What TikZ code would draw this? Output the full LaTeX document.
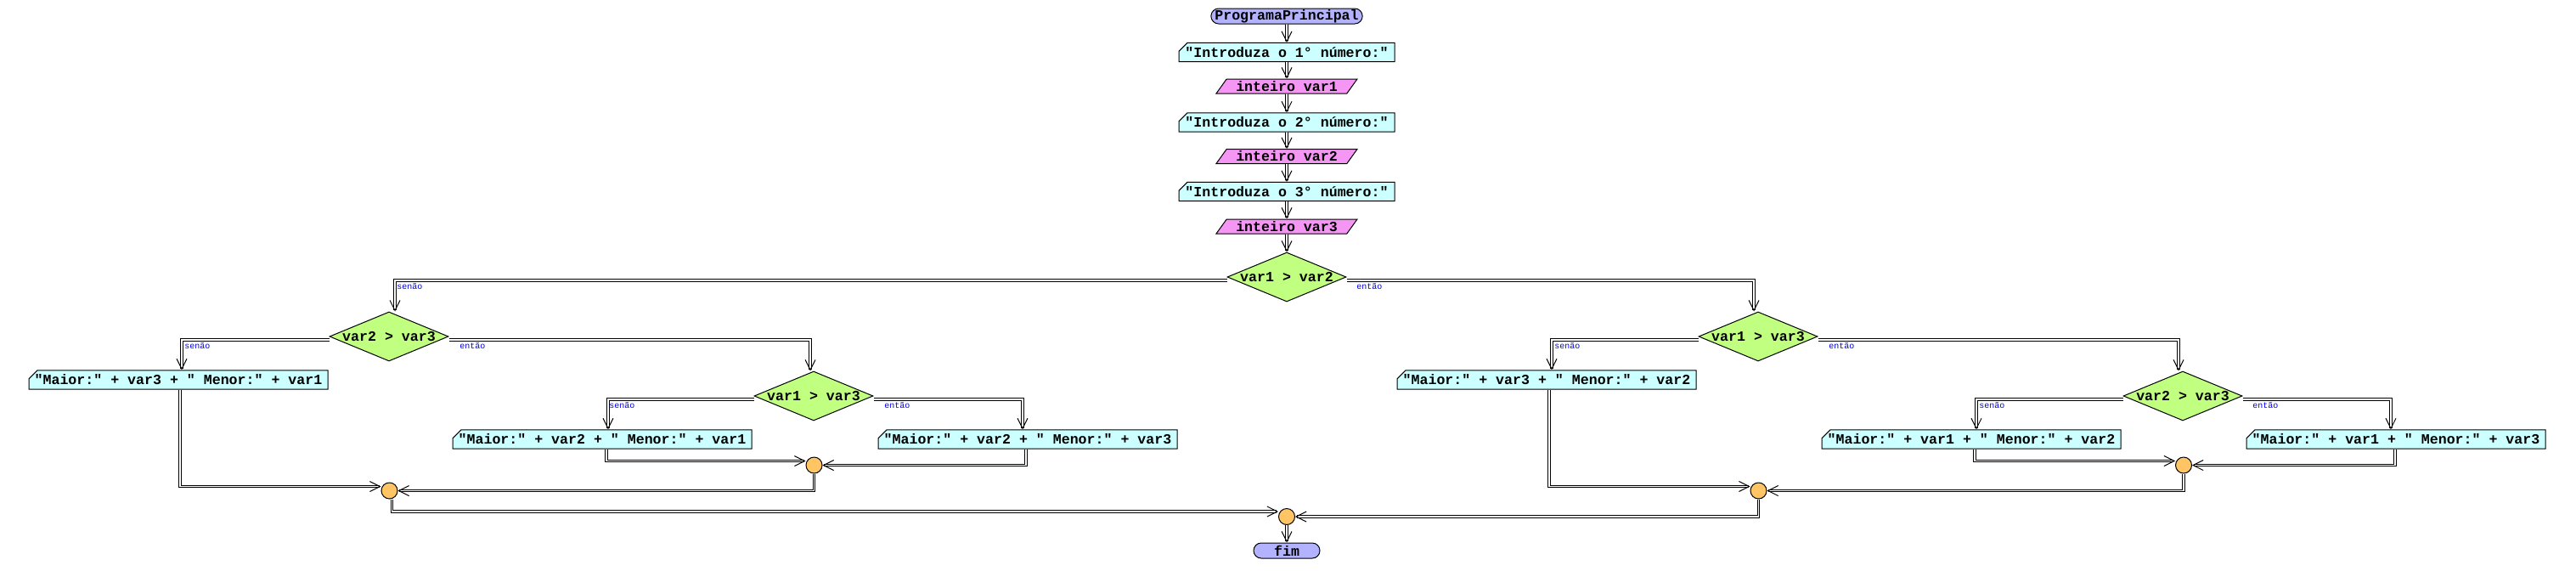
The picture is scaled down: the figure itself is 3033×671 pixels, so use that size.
\documentclass[tikz,border=0pt]{standalone}
\usepackage{fontspec}
\newfontfamily\cf{Liberation Mono}
\usetikzlibrary{shapes.geometric,shapes.misc,arrows.meta}
\definecolor{termfill}{RGB}{178,178,255}
\definecolor{outfill}{RGB}{204,255,255}
\definecolor{infill}{RGB}{245,150,245}
\definecolor{decfill}{RGB}{192,255,128}
\definecolor{joinfill}{RGB}{255,196,100}
\definecolor{lblblue}{RGB}{0,0,255}
\begin{document}
\begin{tikzpicture}[x=0.5pt,y=-0.5pt,
 txt/.style={font=\cf\bfseries\fontsize{8.3}{9}\selectfont, text=black},
 base/.style={txt, draw=black, line width=0.5pt, inner sep=0pt},
 term/.style={base, rounded rectangle, fill=termfill, minimum height=9pt},
 outbox/.style={base, chamfered rectangle, chamfered rectangle corners=north west,
   chamfered rectangle xsep=2.5pt, chamfered rectangle ysep=2.5pt, fill=outfill,
   minimum height=9pt},
 inbox/.style={base, trapezium, trapezium left angle=45, trapezium right angle=135,
   fill=infill, minimum height=8.5pt, minimum width=83pt, trapezium stretches body},
 dec/.style={base, diamond, fill=decfill, minimum width=70pt, minimum height=29pt,
   label={[txt, inner sep=0pt]center:#1}},
 joinpt/.style={base, circle, fill=joinfill, minimum size=9.5pt},
 lbl/.style={font=\cf\fontsize{5}{5}\selectfont, text=lblblue, inner sep=0pt, anchor=north west},
 flow/.style={draw=black, double=white, line width=0.5pt, double distance=0.9pt,
   -{Straight Barb[length=6pt,width=6pt]}},
]
\fill[white] (0,0) rectangle (3033,671);
\useasboundingbox (0,0) rectangle (3033,671);

% main column
\node[term, minimum width=89pt] (start) at (1515,19) {ProgramaPrincipal};
\node[outbox, minimum width=127pt] (o1) at (1515,61.5) {"Introduza o 1° número:"};
\node[inbox] (i1) at (1515,101.5) {inteiro var1};
\node[outbox, minimum width=127pt] (o2) at (1515,144) {"Introduza o 2° número:"};
\node[inbox] (i2) at (1515,184) {inteiro var2};
\node[outbox, minimum width=127pt] (o3) at (1515,225.5) {"Introduza o 3° número:"};
\node[inbox] (i3) at (1515,266.5) {inteiro var3};
\node[dec={var1 > var2}] (d1) at (1515,326) {};

% decisions
\node[dec={var2 > var3}] (dL) at (458,396) {};
\node[dec={var1 > var3}] (dR) at (2070,396) {};
\node[dec={var1 > var3}] (dLR) at (958,466) {};
\node[dec={var2 > var3}] (dRR) at (2570,466) {};

% outputs
\node[outbox, minimum width=176pt] (bLL) at (210,447) {"Maior:" + var3 + " Menor:" + var1};
\node[outbox, minimum width=176pt] (bLRL) at (709,517) {"Maior:" + var2 + " Menor:" + var1};
\node[outbox, minimum width=176pt] (bLRR) at (1210,517) {"Maior:" + var2 + " Menor:" + var3};
\node[outbox, minimum width=176pt] (bRL) at (1821,447) {"Maior:" + var3 + " Menor:" + var2};
\node[outbox, minimum width=176pt] (bRRL) at (2321,517) {"Maior:" + var1 + " Menor:" + var2};
\node[outbox, minimum width=176pt] (bRRR) at (2821,517) {"Maior:" + var1 + " Menor:" + var3};

% joins
\node[joinpt] (mL1) at (958.5,547.5) {};
\node[joinpt] (mL2) at (458.5,577.5) {};
\node[joinpt] (mR1) at (2571,547.5) {};
\node[joinpt] (mR2) at (2070.5,577.5) {};
\node[joinpt] (m3) at (1515,608) {};
\node[term, minimum width=39pt] (fim) at (1515,648) {fim};

% main column arrows
\draw[flow] (start) -- (o1);
\draw[flow] (o1) -- (i1);
\draw[flow] (i1) -- (o2);
\draw[flow] (o2) -- (i2);
\draw[flow] (i2) -- (o3);
\draw[flow] (o3) -- (i3);
\draw[flow] (i3) -- (d1);

% branches
\draw[flow] ([shift={(0,4)}]d1.west) -| ([shift={(7,0)}]dL.north);
\draw[flow] ([shift={(0,4)}]d1.east) -| ([shift={(-5,0)}]dR.north);
\draw[flow] ([shift={(0,4)}]dL.west) -| ([shift={(4,0)}]bLL.north);
\draw[flow] ([shift={(0,4)}]dL.east) -| ([shift={(-4,0)}]dLR.north);
\draw[flow] ([shift={(0,4)}]dLR.west) -| ([shift={(7,0)}]bLRL.north);
\draw[flow] ([shift={(0,4)}]dLR.east) -| ([shift={(-6,0)}]bLRR.north);
\draw[flow] ([shift={(0,4)}]dR.west) -| ([shift={(6,0)}]bRL.north);
\draw[flow] ([shift={(0,4)}]dR.east) -| ([shift={(-5,0)}]dRR.north);
\draw[flow] ([shift={(0,4)}]dRR.west) -| ([shift={(6,0)}]bRRL.north);
\draw[flow] ([shift={(0,4)}]dRR.east) -| ([shift={(-6,0)}]bRRR.north);

% merges
\draw[flow] ([shift={(2,0)}]bLL.south) |- ([shift={(0,-5)}]mL2.west);
\draw[flow] ([shift={(5,0)}]bLRL.south) |- ([shift={(0,-5)}]mL1.west);
\draw[flow] ([shift={(-2,0)}]bLRR.south) |- (mL1.east);
\draw[flow] (mL1.south) |- (mL2.east);
\draw[flow] ([shift={(3,0)}]mL2.south) |- ([shift={(0,-6)}]m3.west);
\draw[flow] ([shift={(3,0)}]bRL.south) |- ([shift={(0,-5)}]mR2.west);
\draw[flow] ([shift={(4,0)}]bRRL.south) |- ([shift={(0,-5)}]mR1.west);
\draw[flow] ([shift={(-1,0)}]bRRR.south) |- (mR1.east);
\draw[flow] (mR1.south) |- (mR2.east);
\draw[flow] (mR2.south) |- (m3.east);
\draw[flow] (m3) -- (fim);

% branch labels
\node[lbl] (s1) at (467,333) {senão};
\node[lbl] (e1) at (1597,333) {então};
\node[lbl] (s2) at (217,403) {senão};
\node[lbl] (e2) at (541,403) {então};
\node[lbl] (s3) at (717,473) {senão};
\node[lbl] (e3) at (1041,473) {então};
\node[lbl] (s4) at (1830,403) {senão};
\node[lbl] (e4) at (2153,403) {então};
\node[lbl] (s5) at (2330,473) {senão};
\node[lbl] (e5) at (2652,473) {então};
\end{tikzpicture}
\end{document}
